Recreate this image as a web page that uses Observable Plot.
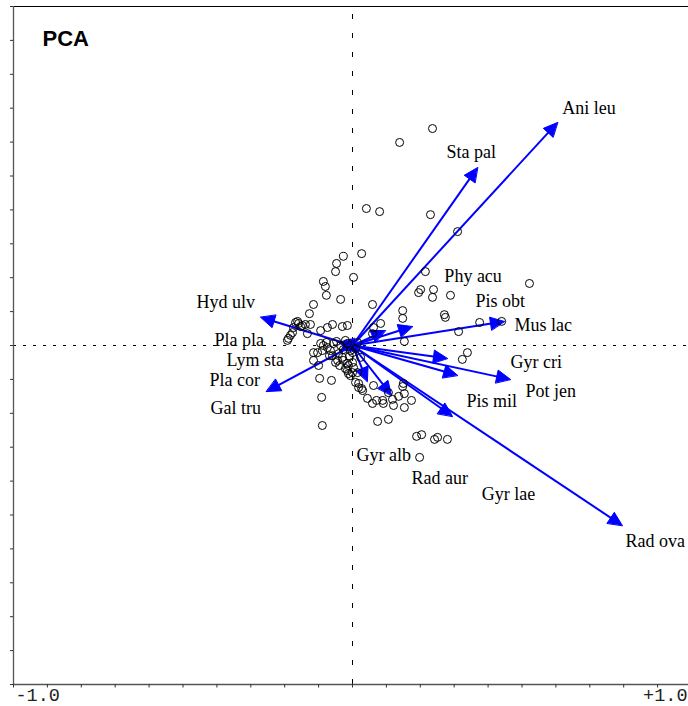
<!DOCTYPE html>
<html><head><meta charset="utf-8">
<script src="https://cdn.jsdelivr.net/npm/d3@7"></script>
<script src="https://cdn.jsdelivr.net/npm/@observablehq/plot@0.6"></script>
<style>
body{margin:0;background:#fff}
#chart{position:relative;width:688px;height:706px;overflow:hidden}
</style>
</head><body><div id="chart"></div>
<script>
// Species (arrows): tip coordinates on PCA axes 1 and 2
const species = ["Ani leu","Sta pal","Phy acu","Pis obt","Mus lac","Gyr cri","Pis mil","Pot jen",
  "Gyr alb","Rad aur","Gyr lae","Rad ova","Hyd ulv","Gal tru","Pla pla","Lym sta","Pla cor"];
const speciesX = [0.605,0.369,0.177,0.097,0.448,0.280,0.310,0.466,0.044,0.115,0.295,0.796,-0.271,-0.254,-0.041,-0.030,-0.035];
const speciesY = [0.658,0.525,0.056,0.044,0.071,-0.038,-0.088,-0.100,-0.106,-0.147,-0.209,-0.531,0.083,-0.136,0.009,-0.006,-0.015];
// Label anchor points (left edge, middle of text) on the same axes
const labelX = [0.619,0.277,0.271,0.363,0.478,0.466,0.336,0.510,0.012,0.174,0.381,0.805,-0.460,-0.419,-0.407,-0.372,-0.422];
const labelY = [0.699,0.569,0.204,0.130,0.059,-0.050,-0.165,-0.136,-0.324,-0.392,-0.440,-0.578,0.127,-0.186,0.015,-0.044,-0.103];

// Samples (open circles)
const siteX = [0.236,0.139,0.041,0.080,0.230,0.310,0.027,-0.027,-0.047,-0.050,0.003,0.215,-0.086,-0.080,-0.077,-0.035,
  -0.115,0.059,0.195,0.201,0.239,0.236,0.289,0.522,0.148,0.148,0.271,0.274,0.375,0.440,0.083,0.062,0.059,0.313,0.153,
  0.339,0.324,-0.127,-0.168,-0.159,-0.148,-0.139,-0.174,-0.177,-0.183,-0.189,-0.192,-0.162,-0.153,-0.124,-0.133,-0.094,
  -0.074,-0.059,-0.030,-0.015,0.015,0.009,0.000,-0.094,-0.086,-0.074,-0.089,-0.103,-0.115,-0.056,-0.065,-0.059,-0.115,
  -0.100,-0.041,-0.030,-0.027,-0.015,-0.012,0.000,-0.050,-0.038,0.024,-0.015,-0.068,-0.044,-0.021,-0.015,-0.012,-0.006,
  0.000,0.003,-0.097,-0.062,0.009,0.018,0.030,0.015,0.062,0.044,0.059,0.071,-0.091,-0.089,0.074,0.106,0.150,0.148,0.089,
  0.091,0.106,0.118,0.121,0.136,0.153,0.174,0.153,0.189,0.204,0.242,0.251,0.280,0.198,-0.021,-0.035,-0.047,-0.006,0.018,
  0.027,-0.077,-0.027,-0.009];
const siteY = [0.640,0.599,0.404,0.395,0.386,0.336,0.271,0.263,0.242,0.218,0.201,0.218,0.189,0.174,0.148,0.136,
  0.121,0.121,0.156,0.165,0.165,0.142,0.148,0.183,0.103,0.080,0.091,0.083,0.068,0.071,0.065,0.053,0.035,0.041,0.012,
  -0.021,-0.041,0.094,0.068,0.065,0.059,0.062,0.053,0.038,0.030,0.021,0.015,0.071,0.056,0.062,0.035,0.044,
  0.053,0.062,0.056,0.059,0.009,-0.009,-0.021,0.006,0.000,-0.006,-0.015,-0.021,-0.021,0.006,-0.015,-0.030,-0.044,
  -0.059,-0.024,-0.035,-0.044,-0.053,-0.059,-0.050,-0.050,-0.059,-0.035,0.006,-0.030,-0.044,-0.068,-0.074,-0.083,-0.089,
  -0.080,-0.065,-0.097,-0.103,-0.109,-0.112,-0.133,-0.080,-0.118,-0.156,-0.171,-0.162,-0.153,-0.236,-0.224,-0.218,-0.112,-0.121,-0.162,
  -0.171,-0.139,-0.159,-0.177,-0.150,-0.142,-0.162,-0.183,-0.268,-0.263,-0.277,-0.271,-0.277,-0.330,0.015,0.000,0.012,-0.015,-0.124,
  -0.127,0.009,-0.012,-0.032];

const axisTicks = d3.range(-10, 11).map(d => d / 10);
const tickLabels = ["-1.0", "+1.0"];
const title = "PCA";

// ---- geometry helpers (pixel sizes converted through the scale) ----
const X0 = 13, X1 = 691, Y0 = 684, Y1 = 6;
const px = 2 / (X1 - X0);             // data units per pixel
const headLen = 14 * px, headHalf = 6.5 * px;

const arrows = species.map((name, i) => {
  const x = speciesX[i], y = speciesY[i];
  const L = Math.hypot(x, y), ux = x / L, uy = y / L;
  const bx = x - headLen * ux, by = y - headLen * uy;
  return {name, x, y, ux, uy, bx, by};
});
const heads = arrows.flatMap(a => [
  {name: a.name, x: a.x, y: a.y},
  {name: a.name, x: a.bx - headHalf * a.uy, y: a.by + headHalf * a.ux},
  {name: a.name, x: a.bx + headHalf * a.uy, y: a.by - headHalf * a.ux}
]);
const shafts = arrows.map(a => ({name: a.name, x2: a.x - 0.6 * headLen * a.ux, y2: a.y - 0.6 * headLen * a.uy}));
const sites = siteX.map((x, i) => ({x, y: siteY[i]}));
const labels = species.map((name, i) => ({name, x: labelX[i], y: labelY[i]}));

const chart = Plot.plot({
  width: 688, height: 706,
  marginLeft: 13, marginRight: 0, marginTop: 6, marginBottom: 22,
  x: {domain: [-1, 1], range: [X0, X1], axis: null},
  y: {domain: [-1, 1], range: [Y0, Y1], axis: null},
  style: {background: "white", fontFamily: "Liberation Serif, serif", overflow: "hidden"},
  marks: [
    // dashed zero lines
    Plot.ruleX([0], {y1: -1, y2: 1, stroke: "black", strokeWidth: 1, strokeDasharray: "5,14"}),
    Plot.ruleY([0], {x1: -1, x2: 1, stroke: "black", strokeWidth: 1, strokeDasharray: "3,7"}),
    // frame lines
    Plot.ruleY([1], {x1: -1.003, x2: 1.1, stroke: "black", strokeWidth: 1}),
    Plot.ruleX([-1], {y1: -1, y2: 1, stroke: "#555", strokeWidth: 1.3}),
    Plot.ruleY([-1], {x1: -1, x2: 1.1, stroke: "#555", strokeWidth: 1.3}),
    // tick marks
    Plot.ruleX(axisTicks, {y1: -1, y2: -1 - 3.5 * px, stroke: "#333", strokeWidth: 1}),
    Plot.ruleY(axisTicks, {x1: -1, x2: -1 - 3 * px, stroke: "#333", strokeWidth: 1}),
    // tick labels
    Plot.text([tickLabels[0]], {x: -1, y: -1, text: d => d, textAnchor: "start", dx: 2, dy: 11,
      fontFamily: "Liberation Mono, DejaVu Sans Mono, monospace", fontSize: 18.5, fill: "#222"}),
    Plot.text([tickLabels[1]], {x: 1, y: -1, text: d => d, textAnchor: "end", dx: -4, dy: 11,
      fontFamily: "Liberation Mono, DejaVu Sans Mono, monospace", fontSize: 18.5, fill: "#222"}),
    // arrows
    Plot.link(shafts, {x1: () => 0, y1: () => 0, x2: "x2", y2: "y2", stroke: "#0000ff", strokeWidth: 2}),
    Plot.line(heads, {x: "x", y: "y", z: "name", curve: "linear-closed", fill: "#0000ff", stroke: "#0000ff", strokeWidth: 1}),
    // samples
    Plot.dot(sites, {x: "x", y: "y", r: 4, stroke: "black", strokeWidth: 1, fill: "none"}),
    // species labels
    Plot.text(labels, {x: "x", y: "y", text: "name", textAnchor: "start", fontSize: 18, fill: "black",
      fontFamily: "Liberation Serif, Times New Roman, serif"}),
    // title
    Plot.text([title], {frameAnchor: "top-left", text: d => d, dx: 29, dy: 24, lineAnchor: "top",
      fontFamily: "Liberation Sans, Arial, sans-serif", fontWeight: "bold", fontSize: 22, fill: "black"})
  ]
});
document.getElementById("chart").appendChild(chart);
</script>
</body></html>
